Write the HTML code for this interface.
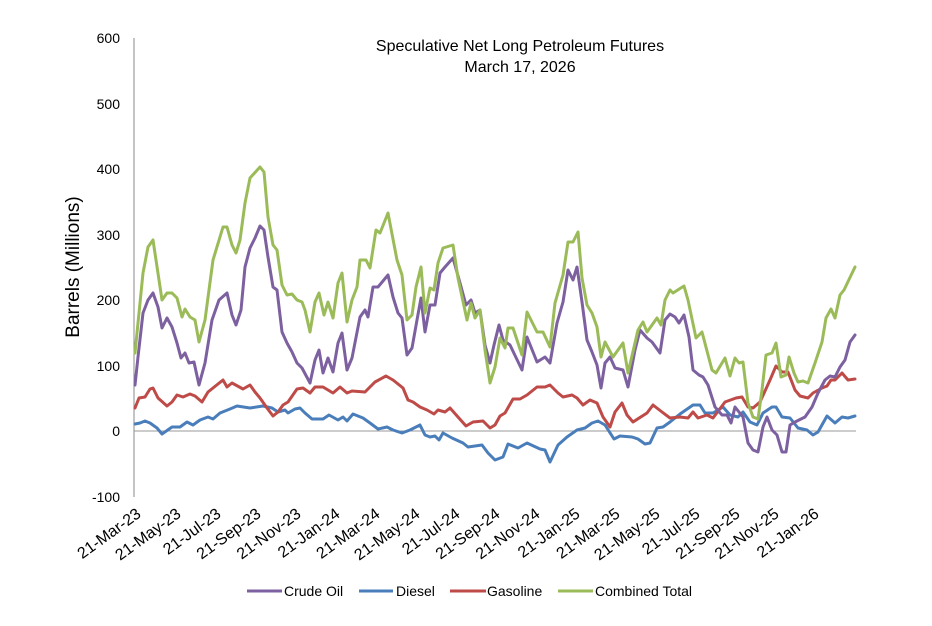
<!DOCTYPE html>
<html><head><meta charset="utf-8"><style>
html,body{margin:0;padding:0;background:#fff;}
svg{display:block;font-family:"Liberation Sans",sans-serif;}
</style></head><body>
<svg width="932" height="626" viewBox="0 0 932 626" xmlns="http://www.w3.org/2000/svg">
<rect width="932" height="626" fill="#fff"/>
<line x1="134" y1="38" x2="134" y2="497" stroke="#888" stroke-width="1"/>
<line x1="134" y1="431" x2="856" y2="431" stroke="#999" stroke-width="1"/>
<g font-size="14" text-anchor="end" fill="#000">
<text x="120" y="43">600</text>
<text x="120" y="109">500</text>
<text x="120" y="174">400</text>
<text x="120" y="240">300</text>
<text x="120" y="305">200</text>
<text x="120" y="371">100</text>
<text x="120" y="436">0</text>
<text x="120" y="502">-100</text>
</g>
<text transform="translate(79,267) rotate(-90)" font-size="19" text-anchor="middle">Barrels (Millions)</text>
<text x="520" y="51" font-size="16" text-anchor="middle">Speculative Net Long Petroleum Futures</text>
<text x="520" y="72" font-size="16" text-anchor="middle">March 17, 2026</text>
<g font-size="16" text-anchor="end">
<text transform="translate(142,516) rotate(-36)">21-Mar-23</text>
<text transform="translate(182,516) rotate(-36)">21-May-23</text>
<text transform="translate(222,516) rotate(-36)">21-Jul-23</text>
<text transform="translate(262,516) rotate(-36)">21-Sep-23</text>
<text transform="translate(302,516) rotate(-36)">21-Nov-23</text>
<text transform="translate(341,516) rotate(-36)">21-Jan-24</text>
<text transform="translate(381,516) rotate(-36)">21-Mar-24</text>
<text transform="translate(421,516) rotate(-36)">21-May-24</text>
<text transform="translate(461,516) rotate(-36)">21-Jul-24</text>
<text transform="translate(501,516) rotate(-36)">21-Sep-24</text>
<text transform="translate(541,516) rotate(-36)">21-Nov-24</text>
<text transform="translate(581,516) rotate(-36)">21-Jan-25</text>
<text transform="translate(621,516) rotate(-36)">21-Mar-25</text>
<text transform="translate(661,516) rotate(-36)">21-May-25</text>
<text transform="translate(701,516) rotate(-36)">21-Jul-25</text>
<text transform="translate(741,516) rotate(-36)">21-Sep-25</text>
<text transform="translate(780,516) rotate(-36)">21-Nov-25</text>
<text transform="translate(820,516) rotate(-36)">21-Jan-26</text>
</g>
<g fill="none" stroke-width="3" stroke-linejoin="round" stroke-linecap="round">
<polyline stroke="#4a7ebb" points="135,424 140,423 145,421 150,423 157,428 162,434 172,427 180,427 187,422 193,425 200,420 208,417 213,419 220,413 230,409 237,406 250,408 263,406 272,408 278,412 285,410 288,413 295,409 300,408 305,413 312,419 323,419 329,415 338,420 343,417 347,421 353,414 363,418 370,423 378,429 387,427 393,430 402,433 410,430 420,425 425,435 430,437 435,436 439,440 443,433 452,438 463,443 468,447 475,446 482,445 488,453 495,460 503,457 508,444 518,448 527,443 540,449 545,450 550,462 558,445 567,437 577,430 585,428 592,423 598,421 605,425 614,439 620,436 632,437 638,439 645,444 650,443 657,428 663,427 670,422 680,414 693,405 700,405 705,413 713,413 723,407 730,415 738,417 743,412 750,422 757,425 763,413 772,407 776,407 782,417 790,418 798,428 807,430 813,435 818,432 827,416 835,423 842,417 848,418 855,416"/>
<polyline stroke="#be4b48" points="135,408 139,398 145,397 150,389 153,388 158,398 167,406 172,402 177,395 183,397 190,394 195,396 202,402 208,392 223,380 227,387 232,383 243,389 250,385 255,392 260,398 267,408 273,416 278,412 283,405 288,402 297,389 303,388 310,393 315,387 323,387 333,393 340,387 347,393 352,391 365,392 375,382 386,376 393,380 403,388 408,400 413,402 420,407 427,410 434,414 438,410 445,412 450,408 458,417 466,426 473,422 483,421 490,428 495,425 500,416 505,413 513,399 520,399 527,395 537,387 545,387 550,385 558,393 563,397 572,395 577,398 583,405 590,400 597,403 603,417 610,427 615,412 622,403 627,415 633,422 647,413 653,405 662,412 670,418 680,417 688,418 693,412 698,418 707,415 713,418 725,402 736,398 742,397 748,407 753,408 760,402 770,380 776,366 782,372 788,372 795,390 800,396 808,398 813,393 822,388 827,386 831,380 835,380 842,373 848,380 855,379"/>
<polyline stroke="#7d60a0" points="135,385 138,357 143,313 148,300 153,293 158,307 162,328 167,318 172,327 177,343 181,358 185,353 189,363 194,362 199,385 205,363 212,320 219,300 227,293 232,315 236,325 241,310 245,267 250,248 255,238 260,226 264,230 268,257 273,287 277,290 282,332 287,343 292,352 297,363 302,368 310,383 315,360 319,350 323,373 328,358 333,372 338,343 342,333 347,370 352,358 360,317 365,310 368,317 373,287 378,287 388,275 393,297 398,313 402,318 407,355 412,348 417,320 421,298 425,332 430,305 435,305 440,273 445,267 453,258 460,283 466,305 471,300 475,313 480,310 485,345 490,363 494,345 499,325 503,340 510,345 522,370 527,337 537,362 545,357 550,363 557,323 563,302 568,270 573,280 577,267 582,302 587,340 592,352 597,365 601,388 605,363 610,357 615,368 623,370 628,387 635,350 640,330 647,338 652,342 660,353 665,320 670,314 675,317 679,323 684,315 689,337 693,370 699,375 703,377 708,385 715,407 722,415 727,415 731,423 735,407 743,417 748,443 753,450 758,452 763,427 767,417 772,430 777,435 782,452 786,452 790,425 795,422 805,417 812,407 818,393 825,380 830,376 835,377 840,367 845,360 850,342 855,335"/>
<polyline stroke="#9bbb59" points="135,353 143,273 148,247 153,240 162,300 167,293 172,293 177,298 182,317 185,309 190,317 195,320 199,342 205,320 213,260 223,227 227,227 232,245 236,253 240,240 245,203 250,178 260,167 264,172 268,217 273,245 277,250 282,285 287,295 292,294 297,300 302,302 305,310 310,332 315,302 319,293 324,315 328,302 333,318 338,283 342,273 347,322 352,300 357,287 360,260 366,260 370,268 376,230 380,233 388,213 397,260 402,275 407,320 412,315 416,287 421,267 425,313 430,288 434,290 438,263 443,248 453,245 458,278 467,320 471,303 475,318 480,310 485,350 490,383 495,367 500,338 505,348 508,328 513,328 522,355 527,312 537,332 543,332 550,347 555,303 563,275 568,242 573,242 578,232 582,278 587,305 592,313 597,327 601,357 605,342 613,357 623,343 628,373 638,330 643,322 647,332 657,318 661,325 665,300 670,290 673,293 684,286 688,300 696,338 702,332 712,370 716,373 725,358 730,376 735,358 739,363 743,362 748,403 753,417 758,419 762,390 766,355 772,353 776,343 781,377 786,375 789,357 794,373 798,382 803,381 808,383 815,363 822,342 826,318 831,309 835,318 840,295 844,290 855,267"/>
</g>
<g font-size="14">
<line x1="247" y1="591" x2="282" y2="591" stroke="#7d60a0" stroke-width="3"/>
<text x="284" y="596">Crude Oil</text>
<line x1="359" y1="591" x2="393" y2="591" stroke="#4a7ebb" stroke-width="3"/>
<text x="396" y="596">Diesel</text>
<line x1="450" y1="591" x2="486" y2="591" stroke="#be4b48" stroke-width="3"/>
<text x="487" y="596">Gasoline</text>
<line x1="558" y1="591" x2="593" y2="591" stroke="#9bbb59" stroke-width="3"/>
<text x="595" y="596">Combined Total</text>
</g>
</svg>
</body></html>
